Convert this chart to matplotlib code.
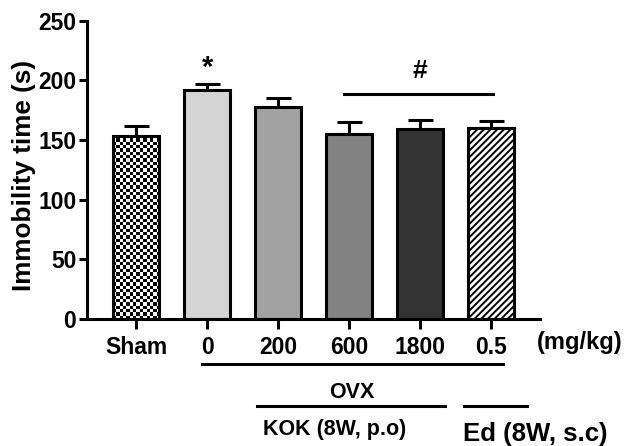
import numpy as np
import matplotlib
matplotlib.use("Agg")
import matplotlib.pyplot as plt
from matplotlib.transforms import blended_transform_factory

plt.rcParams['font.family'] = ['Liberation Sans', 'DejaVu Sans']
plt.rcParams['font.weight'] = 'bold'
plt.rcParams['hatch.linewidth'] = 1.4

# data
groups = ['Sham', '0', '200', '600', '1800', '0.5']
means = [153.4, 191.4, 177.5, 154.8, 159.5, 160.4]
sems = [8.4, 5.3, 7.2, 10.1, 7.3, 5.6]
colors = ['none', '#d4d4d4', '#a2a2a2', '#828282', '#333333', 'white']
hatches = [None, None, None, None, None, '/////']

fig = plt.figure(figsize=(6.43, 4.46), dpi=100)
ax = fig.add_axes([0.136, 0.2847, 0.704, 0.6693])

x = np.arange(len(groups))
bars = ax.bar(x, means, width=0.65, color=colors, edgecolor='black',
              linewidth=2.2, hatch=hatches, zorder=2)
ax.errorbar(x, means, yerr=[np.zeros(len(sems)), sems], fmt='none',
            ecolor='black', elinewidth=2.2, capsize=9, capthick=2.2, zorder=1)

# checkerboard fill for the Sham bar
b = bars[0]
ncol = 14
nrow = int(round(means[0] * 1.193 / 3.3))
checker = np.indices((nrow, ncol)).sum(axis=0) % 2
im = ax.imshow(checker, cmap='gray', interpolation='nearest', aspect='auto',
               extent=[b.get_x(), b.get_x() + b.get_width(), 0, b.get_height()],
               zorder=1.5)
im.set_clip_path(b)

ax.set_xlim(-0.69, 5.69)
ax.set_ylim(0, 250)
ax.set_yticks([0, 50, 100, 150, 200, 250])
ax.set_xticks(x)
ax.set_xticklabels(groups, fontsize=16.5, fontweight='bold')
ax.tick_params(axis='y', labelsize=16.5, width=2.2, length=6, pad=2)
ax.tick_params(axis='x', width=2.2, length=7, pad=5)
for lab in ax.get_yticklabels():
    lab.set_fontweight('bold')
ax.set_ylabel('Immobility time (s)', fontsize=18.8, fontweight='bold')
ax.yaxis.set_label_coords(-0.114, 0.48)
for s in ['top', 'right']:
    ax.spines[s].set_visible(False)
for s in ['left', 'bottom']:
    ax.spines[s].set_linewidth(2.2)

# significance marks
ax.text(1, 210, '*', ha='center', va='center', fontsize=21, fontweight='bold')
ax.plot([2.92, 5.03], [188.6, 188.6], color='black', lw=2.2, clip_on=False)
ax.text(4, 208, '#', ha='center', va='center', fontsize=19, fontweight='bold')

# group annotations below axis
tr = blended_transform_factory(ax.transData, ax.transAxes)
ax.text(6.25, -0.08, '(mg/kg)', transform=tr, ha='center', va='center',
        fontsize=17, fontweight='bold')
ax.plot([0.93, 5.16], [-0.152, -0.152], transform=tr, color='black', lw=2.2,
        clip_on=False)
ax.text(3.03, -0.245, 'OVX', transform=tr, ha='center', va='center',
        fontsize=15.5, fontweight='bold')
ax.plot([1.70, 4.35], [-0.29, -0.29], transform=tr, color='black', lw=2.2,
        clip_on=False)
ax.plot([4.62, 5.50], [-0.29, -0.29], transform=tr, color='black', lw=2.2,
        clip_on=False)
ax.text(2.79, -0.37, 'KOK (8W, p.o)', transform=tr, ha='center', va='center',
        fontsize=15.5, fontweight='bold')
ax.text(5.62, -0.385, 'Ed (8W, s.c)', transform=tr, ha='center', va='center',
        fontsize=18.5, fontweight='bold')

fig.savefig('out.png', dpi=100)
